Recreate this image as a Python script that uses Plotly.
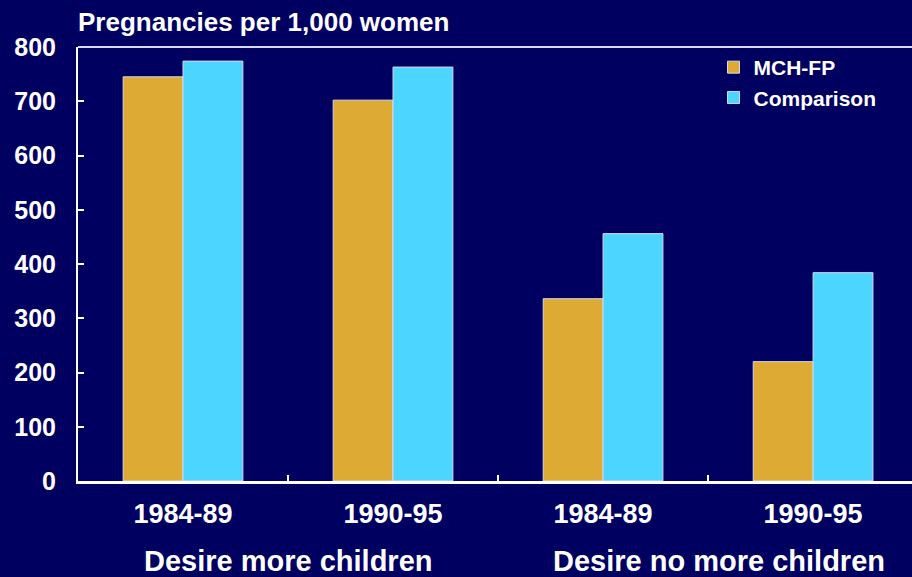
import plotly.graph_objects as go

categories = ["1984-89", "1990-95", "1984-89 ", "1990-95 "]
tick_labels = ["1984-89", "1990-95", "1984-89", "1990-95"]
mch_fp = [745, 702, 336, 220]
comparison = [774, 763, 456, 384]
group_labels = ["Desire more children", "Desire no more children"]
group_positions = [0.5, 2.55]
y_ticks = [0, 100, 200, 300, 400, 500, 600, 700, 800]

BG = "#000060"
FONT = "Liberation Sans, Arial, sans-serif"
OUTLINE = "#d8d8f0"

fig = go.Figure()
fig.add_trace(go.Bar(name="MCH-FP", x=categories, y=mch_fp,
                     marker=dict(color="#DDAA33", line=dict(color=OUTLINE, width=1))))
fig.add_trace(go.Bar(name="Comparison", x=categories, y=comparison,
                     marker=dict(color="#4CD6FF", line=dict(color=OUTLINE, width=1))))

for txt, xp in zip(group_labels, group_positions):
    fig.add_annotation(text=txt, x=xp, xref="x", y=-0.184, yref="paper",
                       showarrow=False, xanchor="center", yanchor="middle",
                       font=dict(family=FONT, size=29, color="white", weight="bold"))

fig.update_layout(
    width=912, height=577,
    paper_bgcolor=BG, plot_bgcolor=BG,
    margin=dict(l=78, r=0, t=47, b=96),
    barmode="group", bargap=0.43, bargroupgap=0,
    font=dict(family=FONT, color="white"),
    title=dict(text="Pregnancies per 1,000 women", x=78/912, y=1-22/577,
               xref="container", yref="container", xanchor="left", yanchor="middle",
               font=dict(family=FONT, size=26, color="white", weight="bold")),
    legend=dict(x=0.762, y=1.0, xanchor="left", yanchor="top",
                bgcolor="rgba(0,0,0,0)", itemwidth=30, tracegroupgap=0,
                font=dict(family=FONT, size=21, color="white", weight="bold")),
    showlegend=True,
)
fig.update_xaxes(type="category", range=[-0.5, 3.471],
                 tickvals=categories, ticktext=tick_labels,
                 tickson="boundaries", ticks="inside", ticklen=6, tickwidth=2, tickcolor="white",
                 showline=True, linecolor="white", linewidth=3, mirror=False,
                 showgrid=False, ticklabelstandoff=7,
                 tickfont=dict(family=FONT, size=27, color="white", weight="bold"))
fig.update_yaxes(range=[0, 800], tickvals=y_ticks, ticks="inside", ticklen=6, tickwidth=2,
                 tickcolor="white", showline=True, linecolor="white", linewidth=2,
                 showgrid=False, zeroline=False, ticklabelstandoff=15,
                 tickfont=dict(family=FONT, size=25, color="white", weight="bold"))
fig.add_shape(type="line", xref="paper", yref="paper", x0=0, x1=1, y0=1, y1=1,
              line=dict(color=OUTLINE, width=2))

fig.write_html("out.html", config={"displayModeBar": False},
               post_script="document.body.style.margin='0';document.body.style.background='#000060';")
